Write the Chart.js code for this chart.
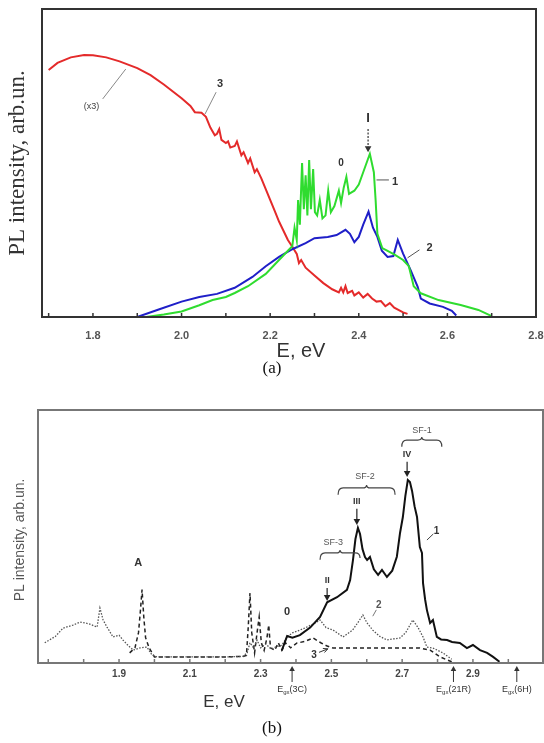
<!DOCTYPE html>
<html><head><meta charset="utf-8">
<script src="https://cdn.jsdelivr.net/npm/chart.js@4"></script>
<style>
body{margin:0;background:#fff;width:544px;height:743px;position:relative;overflow:hidden}
canvas{position:absolute;left:0}
#ca{top:0}
#cb{top:380px}
.cap{position:absolute;left:0;font-family:"Liberation Serif","Times New Roman",serif;font-size:17px;color:#111;width:544px;text-align:center;line-height:20px}
</style></head><body>
<canvas id="ca" width="544" height="380"></canvas>
<canvas id="cb" width="544" height="363"></canvas>
<div class="cap" style="top:358px">(a)</div>
<div class="cap" style="top:718px">(b)</div>
<script>
// ---------- Panel (a) data ----------
const tickA = [1.7,1.8,1.9,2.0,2.1,2.2,2.3,2.4,2.5,2.6,2.7,2.8];
const labelA = ['1.8','2.0','2.2','2.4','2.6','2.8'];

const redE = [1.70,1.72,1.75,1.78,1.80,1.83,1.86,1.90,1.93,1.96,2.00,2.02,2.03,2.045,2.055,2.065,2.075,2.08,2.085,2.09,2.10,2.105,2.11,2.12,2.125,2.135,2.14,2.15,2.155,2.165,2.17,2.18,2.19,2.20,2.21,2.22,2.23,2.24,2.25,2.26,2.265,2.27,2.28,2.30,2.32,2.34,2.355,2.36,2.365,2.37,2.375,2.385,2.39,2.40,2.41,2.42,2.43,2.44,2.45,2.46,2.47,2.48,2.50,2.51];
const redV = [80.2,82.5,84.3,85.1,85.0,84.3,83.0,80.8,78.5,75.5,71.0,68.5,66.5,66.3,65.0,61.5,59.0,59.5,61.0,57.5,56.5,57.0,55.0,55.5,57.0,52.5,53.5,50.0,51.5,47.0,48.0,45.0,41.5,38.0,34.5,31.0,28.0,25.0,22.8,20.5,17.5,18.5,16.0,13.5,11.0,9.0,8.0,9.5,8.0,10.0,7.8,8.5,7.0,8.0,6.3,7.5,6.0,5.0,5.2,3.5,4.5,3.0,1.5,1.0];

const greenE = [1.92,1.96,2.00,2.04,2.07,2.10,2.12,2.15,2.19,2.22,2.24,2.25,2.255,2.26,2.263,2.267,2.272,2.276,2.28,2.284,2.288,2.292,2.297,2.301,2.306,2.312,2.318,2.325,2.331,2.337,2.345,2.355,2.36,2.366,2.372,2.378,2.39,2.40,2.41,2.425,2.434,2.438,2.442,2.453,2.48,2.50,2.513,2.524,2.54,2.58,2.63,2.67,2.70];
const greenV = [0,0.8,1.8,3.8,5.5,6.5,7.8,10,14,18.5,21.5,23,29,25,38,30,50,35,46,33,51,35,48,34,33,38,32,33,41,34,36,41,37,42,45.5,40,41,43,47,53,47,38,27,22.4,20.3,18.5,16.5,10,7.7,5.5,3.9,2.3,0.3];

const blueE = [1.90,1.95,2.00,2.04,2.08,2.12,2.16,2.19,2.22,2.25,2.28,2.30,2.33,2.35,2.37,2.38,2.39,2.40,2.41,2.422,2.432,2.442,2.452,2.465,2.478,2.488,2.50,2.517,2.533,2.54,2.56,2.59,2.61,2.62];
const blueV = [0,2.5,5,6.5,7.5,9.5,13,16.5,19.5,22,24,25.6,26,26.6,28.3,27,24.3,26,30,34.2,29,26,21.5,19.5,19.8,25,20.6,15.2,9.8,6,4.4,3.3,2,0.5];

// ---------- Panel (b) data ----------
const tickB = [1.7,1.8,1.9,2.0,2.1,2.2,2.3,2.4,2.5,2.6,2.7,2.8,2.9,3.0];
const labelB = ['1.9','2.1','2.3','2.5','2.7','2.9'];

const c1E = [2.36,2.375,2.39,2.411,2.44,2.468,2.488,2.516,2.544,2.553,2.561,2.568,2.575,2.581,2.588,2.595,2.601,2.609,2.62,2.632,2.643,2.657,2.672,2.685,2.694,2.702,2.709,2.716,2.722,2.728,2.735,2.742,2.75,2.756,2.759,2.765,2.77,2.779,2.787,2.798,2.81,2.827,2.841,2.863,2.883,2.9,2.92,2.94,2.957,2.975];
const c1V = [5,10.7,10,11,14,18.2,24,26,28.9,32.8,40.7,49,53.4,51,45,41.9,40.7,41.9,37,34.8,36.8,34,36.5,42,51.4,57.7,66,72.3,71.5,68,62,57.7,45.8,43.5,31.6,25,20.9,15.8,17,10.3,9.3,9.1,8.3,7.9,5.9,7.1,5.1,4,2.4,0.5];

const c2E = [1.69,1.72,1.742,1.77,1.79,1.815,1.838,1.846,1.855,1.866,1.883,1.90,1.911,1.925,1.94,1.96,1.979,1.993,2.007,2.05,2.10,2.15,2.20,2.25,2.262,2.27,2.28,2.29,2.30,2.315,2.33,2.345,2.36,2.375,2.39,2.42,2.45,2.468,2.485,2.505,2.533,2.56,2.575,2.589,2.60,2.617,2.637,2.657,2.675,2.694,2.71,2.73,2.745,2.759,2.77,2.787,2.815,2.84];
const c2V = [8,10.5,13.8,15,16.2,15.5,14.2,21.7,17,14.2,10.3,11,9.1,7,5.1,6,6.3,3.2,2.4,2.4,2.4,2.4,2.4,2.6,4,8,6,9,6,7.5,5.5,6.5,7,10.3,11.9,13.5,15.5,17,14,13,10.3,13,16,19,16,13,10.5,9.1,9.5,9.9,12,17,14,10.3,6.3,5.9,4,1.5];

const c3E = [1.93,1.945,1.955,1.96,1.965,1.97,1.975,1.985,2.0,2.05,2.10,2.15,2.20,2.25,2.26,2.265,2.27,2.275,2.283,2.29,2.296,2.302,2.31,2.318,2.323,2.328,2.34,2.35,2.36,2.37,2.385,2.403,2.425,2.448,2.47,2.488,2.505,2.55,2.60,2.65,2.70,2.75,2.779,2.807,2.84];
const c3V = [4,6,12,20,29,18,10,6,2.4,2.4,2.4,2.4,2.4,2.6,3,14,27.7,12,4,12,18.2,8,5,10,15,6,5,8,5,8,6,7.9,8.5,9.9,8,6.7,5.9,5.9,5.9,5.9,5.9,5.9,5.1,2.4,0.5];

const pts = (xs, ys) => xs.map((x, i) => ({x, y: ys[i]}));
const SANS = '"Liberation Sans", Arial, sans-serif';
const SERIF = '"Liberation Serif", "Times New Roman", serif';

function drawArrowHead(ctx, x, y, dir, size) {
  ctx.beginPath();
  ctx.moveTo(x, y);
  ctx.lineTo(x - size * 0.55, y - dir * size);
  ctx.lineTo(x + size * 0.55, y - dir * size);
  ctx.closePath();
  ctx.fill();
}

function panelPlugin(cfg) {
  return {
    id: 'panel_' + cfg.name,
    afterDraw(chart) {
      const ctx = chart.ctx, xs = chart.scales.x, ys = chart.scales.y, a = chart.chartArea;
      const X = v => xs.getPixelForValue(v), Y = v => ys.getPixelForValue(v);
      ctx.save();
      ctx.strokeStyle = cfg.frame; ctx.lineWidth = 2;
      ctx.strokeRect(a.left, a.top, a.right - a.left, a.bottom - a.top);
      ctx.lineWidth = 1.5;
      xs.ticks.forEach(t => {
        const x = X(t.value);
        ctx.beginPath(); ctx.moveTo(x, a.bottom); ctx.lineTo(x, a.bottom - cfg.tickLen); ctx.stroke();
      });
      ctx.fillStyle = cfg.titleColor;
      ctx.textAlign = 'center'; ctx.textBaseline = 'middle';
      ctx.font = cfg.xTitleFont;
      ctx.fillText('E, eV', cfg.xTitlePos[0], cfg.xTitlePos[1]);
      ctx.save();
      ctx.translate(cfg.yTitlePos[0], cfg.yTitlePos[1]);
      ctx.rotate(-Math.PI / 2);
      ctx.font = cfg.yTitleFont;
      ctx.fillStyle = cfg.yTitleColor;
      ctx.fillText('PL intensity, arb.un.', 0, 0);
      ctx.restore();
      cfg.ann.forEach(it => {
        ctx.save();
        ctx.strokeStyle = it.c || '#222'; ctx.fillStyle = it.c || '#222';
        if (it.t === 'text') {
          ctx.font = it.f; ctx.textAlign = 'center'; ctx.textBaseline = 'middle';
          ctx.fillText(it.s, X(it.x), Y(it.y));
        } else if (it.t === 'line') {
          ctx.lineWidth = it.w || 1;
          ctx.beginPath();
          it.p.forEach((q, i) => i ? ctx.lineTo(X(q[0]), Y(q[1])) : ctx.moveTo(X(q[0]), Y(q[1])));
          ctx.stroke();
          if (it.head) {
            const q1 = it.p[it.p.length - 2], q2 = it.p[it.p.length - 1];
            const x1 = X(q1[0]), y1 = Y(q1[1]), x2 = X(q2[0]), y2 = Y(q2[1]);
            const ang = Math.atan2(y2 - y1, x2 - x1);
            ctx.beginPath();
            ctx.moveTo(x2, y2);
            ctx.lineTo(x2 - 5 * Math.cos(ang - 0.45), y2 - 5 * Math.sin(ang - 0.45));
            ctx.moveTo(x2, y2);
            ctx.lineTo(x2 - 5 * Math.cos(ang + 0.45), y2 - 5 * Math.sin(ang + 0.45));
            ctx.stroke();
          }
        } else if (it.t === 'down') {
          ctx.lineWidth = it.w || 1.2;
          const x = X(it.x), y1 = Y(it.y1), y2 = Y(it.y2);
          if (it.dash) ctx.setLineDash(it.dash);
          ctx.beginPath(); ctx.moveTo(x, y1); ctx.lineTo(x, y2 - 4); ctx.stroke();
          ctx.setLineDash([]);
          drawArrowHead(ctx, x, y2, 1, 6);
        } else if (it.t === 'brace') {
          ctx.lineWidth = 1.2;
          const x1 = X(it.x1), x2 = X(it.x2), y = Y(it.y), yl = Y(it.yl), yr = Y(it.yr), xm = (x1 + x2) / 2;
          ctx.beginPath();
          ctx.moveTo(x1, yl);
          ctx.quadraticCurveTo(x1, y, x1 + 5, y);
          ctx.lineTo(xm - 4, y);
          ctx.quadraticCurveTo(xm, y, xm, y - 3);
          ctx.quadraticCurveTo(xm, y, xm + 4, y);
          ctx.lineTo(x2 - 5, y);
          ctx.quadraticCurveTo(x2, y, x2, yr);
          ctx.stroke();
        } else if (it.t === 'egx') {
          const x = X(it.x);
          ctx.lineWidth = 1;
          ctx.beginPath(); ctx.moveTo(x, a.bottom + 19); ctx.lineTo(x, a.bottom + 6); ctx.stroke();
          drawArrowHead(ctx, x, a.bottom + 3, -1, 5);
          ctx.textBaseline = 'alphabetic'; ctx.textAlign = 'left';
          const f1 = '9px ' + SANS, f2 = '6px ' + SANS;
          ctx.font = f1; const wE = ctx.measureText('E').width, wT = ctx.measureText(it.s).width;
          ctx.font = f2; const wS = ctx.measureText('gx').width;
          let x0 = x - (wE + wS + wT) / 2;
          const yb = a.bottom + 29;
          ctx.font = f1; ctx.fillText('E', x0, yb); x0 += wE;
          ctx.font = f2; ctx.fillText('gx', x0, yb + 2); x0 += wS;
          ctx.font = f1; ctx.fillText(it.s, x0, yb);
        }
        ctx.restore();
      });
      ctx.restore();
    }
  };
}

function xScale(min, max, ticks, labels, height, pad, font, color) {
  return {
    type: 'linear', min, max,
    afterBuildTicks: s => { s.ticks = ticks.map(v => ({value: v})); },
    afterFit: s => { s.height = height; s.paddingLeft = 0; s.paddingRight = 0; },
    ticks: {
      autoSkip: false, maxRotation: 0, minRotation: 0, padding: pad,
      font, color,
      callback: v => { const s = Number(v).toFixed(1); return labels.includes(s) ? s : ''; }
    },
    grid: {display: false, drawTicks: false},
    border: {display: false}
  };
}

const boldA = {family: SANS, size: 11, weight: 'bold'};
const boldB = {family: SANS, size: 10, weight: 'bold'};

new Chart(document.getElementById('ca'), {
  type: 'line',
  data: {datasets: [
    {label: '1', data: pts(greenE, greenV), borderColor: '#2fdc2f', borderWidth: 2},
    {label: '2', data: pts(blueE, blueV), borderColor: '#1f1fc8', borderWidth: 2},
    {label: '3', data: pts(redE, redV), borderColor: '#e42a2a', borderWidth: 2}
  ]},
  options: {
    responsive: false, animation: false, devicePixelRatio: 1,
    layout: {padding: {left: 42, top: 9, right: 8, bottom: 0}},
    elements: {point: {radius: 0}, line: {tension: 0, fill: false}},
    plugins: {legend: {display: false}, tooltip: {enabled: false}},
    scales: {
      x: xScale(1.685, 2.8, tickA, labelA, 63, 12, boldA, '#555'),
      y: {display: false, min: 0, max: 100}
    }
  },
  plugins: [panelPlugin({
    name: 'a', frame: '#333', tickLen: 4, titleColor: '#333',
    xTitleFont: '20px ' + SANS, xTitlePos: [301, 351],
    yTitleFont: '23px ' + SERIF, yTitleColor: '#333', yTitlePos: [18, 163],
    ann: [
      {t: 'text', x: 1.797, y: 68.2, s: '(x3)', f: '9px ' + SANS, c: '#444'},
      {t: 'line', p: [[1.822, 70.8], [1.874, 80.5]], c: '#888'},
      {t: 'text', x: 2.087, y: 75.6, s: '3', f: 'bold 11px ' + SANS, c: '#333'},
      {t: 'line', p: [[2.053, 65.9], [2.078, 73]], c: '#888'},
      {t: 'text', x: 2.421, y: 64.5, s: 'I', f: 'bold 13px ' + SANS, c: '#333'},
      {t: 'down', x: 2.421, y1: 61, y2: 53.5, c: '#333', dash: [2, 1.5]},
      {t: 'text', x: 2.36, y: 50, s: '0', f: 'bold 10px ' + SANS, c: '#333'},
      {t: 'text', x: 2.482, y: 43.8, s: '1', f: 'bold 11px ' + SANS, c: '#333'},
      {t: 'line', p: [[2.44, 44.5], [2.468, 44.5]], c: '#555'},
      {t: 'text', x: 2.56, y: 22.4, s: '2', f: 'bold 11px ' + SANS, c: '#333'},
      {t: 'line', p: [[2.51, 19.2], [2.537, 21.8]], c: '#555'}
    ]
  })]
});

new Chart(document.getElementById('cb'), {
  type: 'line',
  data: {datasets: [
    {label: '1', data: pts(c1E, c1V), borderColor: '#111', borderWidth: 2},
    {label: '2', data: pts(c2E, c2V), borderColor: '#555', borderWidth: 1.3, borderDash: [1.5, 1.5]},
    {label: '3', data: pts(c3E, c3V), borderColor: '#222', borderWidth: 1.5, borderDash: [4, 3]}
  ]},
  options: {
    responsive: false, animation: false, devicePixelRatio: 1,
    layout: {padding: {left: 38, top: 30, right: 1, bottom: 0}},
    elements: {point: {radius: 0}, line: {tension: 0, fill: false}},
    plugins: {legend: {display: false}, tooltip: {enabled: false}},
    scales: {
      x: xScale(1.671, 3.098, tickB, labelB, 80, 5, boldB, '#444'),
      y: {display: false, min: 0, max: 100}
    }
  },
  plugins: [panelPlugin({
    name: 'b', frame: '#777', tickLen: 4, titleColor: '#333',
    xTitleFont: '17px ' + SANS, xTitlePos: [224, 322],
    yTitleFont: '14px ' + SANS, yTitleColor: '#555', yTitlePos: [20, 160],
    ann: [
      {t: 'text', x: 1.954, y: 39.5, s: 'A', f: 'bold 11px ' + SANS, c: '#333'},
      {t: 'text', x: 2.375, y: 20, s: '0', f: 'bold 11px ' + SANS, c: '#333'},
      {t: 'text', x: 2.488, y: 32.5, s: 'II', f: 'bold 9px ' + SANS, c: '#333'},
      {t: 'down', x: 2.488, y1: 29.6, y2: 24.5, c: '#222'},
      {t: 'text', x: 2.572, y: 64, s: 'III', f: 'bold 9px ' + SANS, c: '#333'},
      {t: 'down', x: 2.572, y1: 61, y2: 54.5, c: '#222'},
      {t: 'text', x: 2.714, y: 82.5, s: 'IV', f: 'bold 9px ' + SANS, c: '#333'},
      {t: 'down', x: 2.714, y1: 79.5, y2: 73.5, c: '#222'},
      {t: 'text', x: 2.756, y: 92, s: 'SF-1', f: '9px ' + SANS, c: '#555'},
      {t: 'brace', x1: 2.699, x2: 2.812, y: 88.1, yl: 85.5, yr: 85.5, c: '#444'},
      {t: 'text', x: 2.595, y: 73.8, s: 'SF-2', f: '9px ' + SANS, c: '#555'},
      {t: 'brace', x1: 2.519, x2: 2.68, y: 69.2, yl: 66.5, yr: 66.5, c: '#444'},
      {t: 'text', x: 2.505, y: 47.6, s: 'SF-3', f: '9px ' + SANS, c: '#555'},
      {t: 'brace', x1: 2.468, x2: 2.581, y: 43.5, yl: 40.8, yr: 41.5, c: '#444'},
      {t: 'text', x: 2.797, y: 52, s: '1', f: 'bold 10px ' + SANS, c: '#333'},
      {t: 'line', p: [[2.77, 48.6], [2.788, 51]], c: '#444'},
      {t: 'text', x: 2.634, y: 23, s: '2', f: 'bold 10px ' + SANS, c: '#555'},
      {t: 'line', p: [[2.617, 18.5], [2.627, 21]], c: '#777'},
      {t: 'text', x: 2.451, y: 3.2, s: '3', f: 'bold 10px ' + SANS, c: '#333'},
      {t: 'line', p: [[2.465, 4.2], [2.49, 5.6]], c: '#333', head: true},
      {t: 'egx', x: 2.389, s: '(3C)', c: '#333'},
      {t: 'egx', x: 2.845, s: '(21R)', c: '#333'},
      {t: 'egx', x: 3.024, s: '(6H)', c: '#333'}
    ]
  })]
});
</script>
</body></html>
